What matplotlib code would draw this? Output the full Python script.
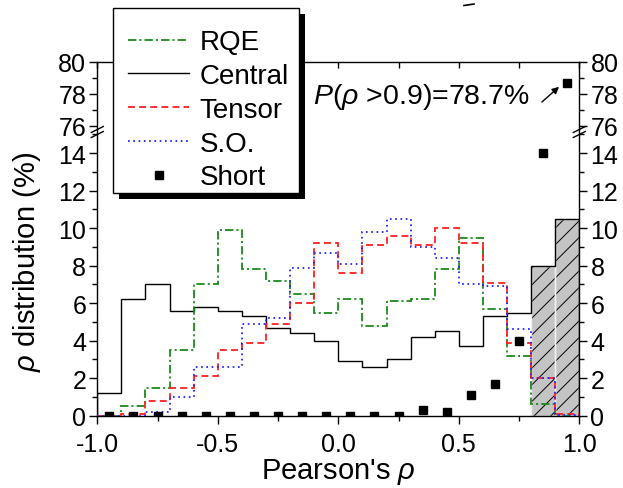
import numpy as np
import matplotlib
matplotlib.use("Agg")
import matplotlib.pyplot as plt
from matplotlib.ticker import MultipleLocator, FormatStrFormatter
from matplotlib.lines import Line2D
from matplotlib.patches import Rectangle

plt.rcParams['font.family'] = ['Liberation Sans', 'DejaVu Sans']
plt.rcParams['mathtext.fontset'] = 'custom'
plt.rcParams['mathtext.rm'] = 'Liberation Sans'
plt.rcParams['mathtext.it'] = 'Liberation Sans:italic'
plt.rcParams['lines.scale_dashes'] = False
plt.rcParams['hatch.linewidth'] = 0.7

# histogram bins of Pearson's rho, width 0.1
edges = np.linspace(-1.0, 1.0, 21)
centers = (edges[:-1] + edges[1:]) / 2

rqe = [0.0, 0.5, 1.5, 3.5, 7.0, 9.9, 7.8, 7.2, 6.5, 5.5,
       6.2, 4.8, 6.1, 6.2, 7.8, 9.5, 5.7, 3.2, 0.6, 0.0]
central = [1.2, 6.2, 7.0, 5.6, 5.8, 5.6, 5.3, 4.7, 4.4, 4.0,
           2.9, 2.6, 3.0, 4.2, 4.5, 3.7, 5.3, 5.5, 8.0, 10.5]
tensor = [0.0, 0.1, 0.8, 1.5, 2.1, 3.5, 3.9, 4.9, 6.0, 9.2,
          7.6, 9.1, 9.6, 9.1, 10.0, 9.2, 7.1, 3.9, 2.0, 0.1]
so = [0.0, 0.0, 0.2, 1.0, 2.6, 2.6, 4.9, 5.2, 7.9, 8.7,
      8.1, 9.8, 10.5, 9.0, 8.4, 7.0, 6.9, 4.6, 2.0, 0.05]
short = [0.0, 0.0, 0.0, 0.0, 0.0, 0.0, 0.0, 0.0, 0.0, 0.0,
         0.0, 0.0, 0.0, 0.3, 0.2, 1.1, 1.7, 4.0, 14.0, 78.7]
hl_start = 18  # bins rho > 0.8 shaded

W, H = 623, 489
fig = plt.figure(figsize=(W / 100, H / 100), dpi=100)

def fx(px):
    return px / W

def fy(py):
    return 1 - py / H

x0, x1 = 97.3, 579.3
axl = fig.add_axes([fx(x0), fy(416.7), fx(x1 - x0), fy(134) - fy(416.7)])
axu = fig.add_axes([fx(x0), fy(133), fx(x1 - x0), fy(63) - fy(133)])

fs = 18
col_g = '#1a8a1a'
col_r = '#ff2020'
col_b = '#2020ff'

# shaded bars for the last two bins
wbin = edges[1] - edges[0]
axl.bar(centers[hl_start:], central[hl_start:], width=wbin, color='#c4c4c4',
        edgecolor='black', linewidth=0, hatch='//', zorder=1)
axl.bar(centers[hl_start:], central[hl_start:], width=wbin, fill=False,
        edgecolor='#f0f0f0', linewidth=1.0, zorder=1.5)

axl.stairs(central, edges, color='black', lw=1.0, zorder=2)
axl.stairs(rqe, edges, color=col_g, lw=1.3, ls=(0, (6, 2.2, 1.5, 2.2)), zorder=3)
axl.stairs(tensor, edges, color=col_r, lw=1.3, ls=(0, (5, 3)), zorder=3)
axl.stairs(so, edges, color=col_b, lw=1.3, ls=(0, (1.2, 2.6)), zorder=3)

for ax in (axl, axu):
    ax.plot(centers, short, 's', color='black', ms=5.5, zorder=4, clip_on=True)
    ax.set_xlim(-1.0, 1.0)
    ax.tick_params(axis='both', which='both', labelsize=fs, direction='out',
                   width=1.0, left=True, right=True, labelleft=True,
                   labelright=True, pad=2)
    ax.tick_params(which='major', length=6)
    ax.tick_params(which='minor', length=3.5)
    for sp in ax.spines.values():
        sp.set_linewidth(1.0)

axl.set_ylim(0, 15.08)
axl.yaxis.set_major_locator(MultipleLocator(2))
axl.yaxis.set_minor_locator(MultipleLocator(1))
axl.xaxis.set_major_locator(MultipleLocator(0.5))
axl.xaxis.set_minor_locator(MultipleLocator(0.25))
axl.xaxis.set_major_formatter(FormatStrFormatter('%.1f'))
axl.tick_params(axis='x', which='major', pad=6)
axl.spines['top'].set_visible(False)
axl.set_xlabel(r"Pearson's $\rho$", fontsize=21, labelpad=0)

axu.set_ylim(75.625, 80)
axu.yaxis.set_major_locator(MultipleLocator(2))
axu.yaxis.set_minor_locator(MultipleLocator(1))
axu.spines['bottom'].set_visible(False)
axu.xaxis.set_major_locator(MultipleLocator(0.25))
axu.tick_params(axis='x', which='both', bottom=False, labelbottom=False,
                top=True, direction='in', length=4)
axu.xaxis.set_minor_locator(plt.NullLocator())

axu.text(0.795, 77.85, r"$P$($\rho$ >0.9)=78.7%", fontsize=20.5,
         ha='right', va='center')
axu.annotate('', xy=(0.916, 78.45), xytext=(0.845, 77.5),
             arrowprops=dict(arrowstyle='-|>', color='black', lw=1.0,
                             mutation_scale=10, shrinkA=0, shrinkB=0))

fig.text(fx(27), fy(262), r"$\rho$ distribution (%)", fontsize=21,
         rotation=90, ha='center', va='center')

# axis break marks
for xb in (x0, x1):
    for dy in (-2.5, 2.5):
        fig.add_artist(Line2D([fx(xb - 6), fx(xb + 6)],
                              [fy(133 + dy + 3), fy(133 + dy - 3)],
                              color='black', lw=1.0))

# stray mark at the top
fig.add_artist(Line2D([fx(464), fx(474)], [fy(6.5), fy(5)], color='black', lw=1.2))

handles = [
    Line2D([], [], color=col_g, lw=1.3, ls=(0, (6, 2.2, 1.5, 2.2))),
    Line2D([], [], color='black', lw=1.0),
    Line2D([], [], color=col_r, lw=1.3, ls=(0, (5, 3))),
    Line2D([], [], color=col_b, lw=1.3, ls=(0, (1.2, 2.6))),
    Line2D([], [], color='black', ls='none', marker='s', ms=5.5),
]
labels = ['RQE', 'Central', 'Tensor', 'S.O.', 'Short']
leg = fig.legend(handles, labels, loc='upper left',
                 bbox_to_anchor=(fx(113), fy(15)), fontsize=20,
                 frameon=False, borderpad=0.55, labelspacing=0.28,
                 handlelength=2.2, handletextpad=0.36, borderaxespad=0)
leg.set_zorder(10)

# legend box with a hard black shadow
lx0, ly0, lx1, ly1 = 113, 9, 299, 194
fig.add_artist(Rectangle((fx(lx0 + 6), fy(ly1 + 6)), fx(lx1 - lx0), fy(ly0) - fy(ly1),
                         facecolor='black', edgecolor='none', zorder=8))
fig.add_artist(Rectangle((fx(lx0), fy(ly1)), fx(lx1 - lx0), fy(ly0) - fy(ly1),
                         facecolor='white', edgecolor='black', lw=1.0, zorder=9))

fig.savefig('out.png', dpi=100)
